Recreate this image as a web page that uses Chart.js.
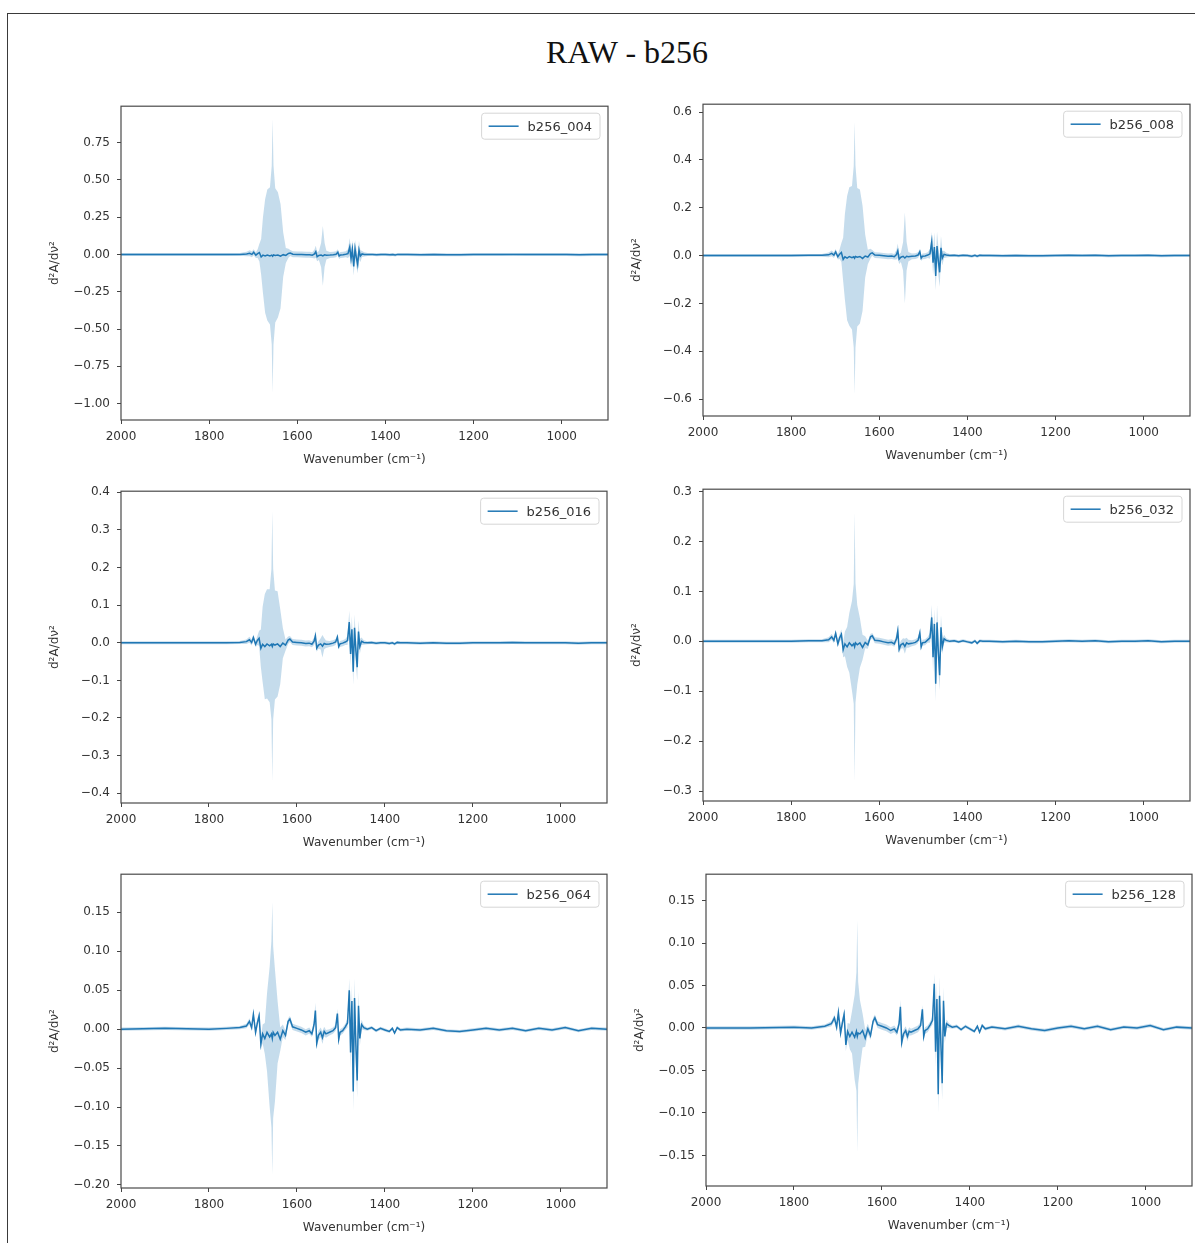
<!DOCTYPE html>
<html>
<head>
<meta charset="utf-8">
<script src="https://cdn.jsdelivr.net/npm/chart.js@4.4.1/dist/chart.umd.min.js"></script>
<style>
  html, body { margin: 0; padding: 0; background: #fff; width: 1195px; height: 1243px; overflow: hidden; position: relative; }
  #frame { position: absolute; left: 7px; top: 13px; width: 1300px; height: 1400px; border: 1.5px solid #3a3a3a; box-sizing: border-box; }
  #title { position: absolute; left: 427px; width: 400px; top: 36px; text-align: center; font-family: "Liberation Serif", "Times New Roman", serif; font-size: 32px; line-height: 32px; color: #111; }
  .pc { position: absolute; }
</style>
</head>
<body>
<div id="frame"></div>
<div id="title">RAW - b256</div>

<script>
// ---------------- DATA ----------------
const WAVENUMBERS = [2000,1900,1800,1760,1730,1715,1708,1703,1699,1694,
  1690,1686,1682,1678,1673,1668,1662,1658,1656,1654,
  1650,1644,1638,1632,1626,1620,1616,1610,1600,1590,
  1580,1572,1566,1561,1558,1555,1551,1546,1542,1538,
  1534,1526,1518,1512,1508,1505,1502,1496,1490,1485,
  1481,1478,1475,1472,1469,1466,1463,1460,1457,1453,
  1448,1440,1430,1420,1410,1400,1390,1383,1378,1372,
  1365,1350,1320,1290,1260,1230,1200,1170,1140,1110,
  1080,1050,1020,990,960,930,895];

const SERIES_LABELS = ["b256_004","b256_008","b256_016","b256_032","b256_064","b256_128"];

const MEAN_004 = [0,0,0,0,0.001,0.003,0.008,0.001,0.015,-0.004,
  0.006,0.013,-0.016,-0.004,-0.010,-0.003,-0.009,-0.004,-0.011,-0.003,
  -0.006,-0.003,-0.011,-0.001,-0.006,0.008,0.010,0.002,0.001,0,
  -0.002,-0.001,-0.004,0.004,0.019,-0.015,-0.006,-0.003,-0.009,-0.002,
  -0.004,-0.003,-0.001,0.002,0.015,-0.010,-0.003,-0.001,0.002,0.006,
  0.050,-0.028,0.034,-0.080,0.038,-0.020,-0.066,0.030,-0.010,0.004,
  0.001,0,0.001,-0.001,0,0,-0.002,0,-0.003,0.001,
  0,0,-0.001,0,-0.001,-0.001,0,0,0,0.001,
  0,0,0,0,-0.001,0,0];
const MEAN_008 = [0,0,0,0.001,0.001,0.003,0.009,0.002,0.015,-0.005,
  0.006,0.013,-0.016,-0.005,-0.011,-0.004,-0.009,-0.005,-0.011,-0.004,
  -0.007,-0.004,-0.012,-0.002,-0.006,0.008,0.011,0.002,0.001,-0.001,
  -0.003,-0.002,-0.005,0.004,0.020,-0.015,-0.007,-0.003,-0.010,-0.003,
  -0.005,-0.003,-0.002,0.002,0.016,-0.011,-0.003,-0.002,0.002,0.007,
  0.058,-0.030,0.036,-0.085,0.040,-0.022,-0.070,0.032,-0.011,0.005,
  0.002,0,0.001,-0.001,0.001,0,-0.003,0.001,-0.003,0.001,
  0,0,-0.001,0,-0.001,-0.001,0,0.001,0,0.001,
  -0.001,0,0,0.001,-0.001,0,0];
const MEAN_016 = [0,0,0,0,0.001,0.003,0.008,0.001,0.014,-0.004,
  0.006,0.012,-0.015,-0.004,-0.010,-0.003,-0.008,-0.004,-0.010,-0.003,
  -0.006,-0.003,-0.010,-0.001,-0.006,0.007,0.010,0.002,0.001,0,
  -0.002,-0.001,-0.004,0.004,0.018,-0.014,-0.006,-0.003,-0.009,-0.002,
  -0.004,-0.003,-0.001,0.002,0.015,-0.010,-0.003,-0.001,0.002,0.006,
  0.055,-0.030,0.036,-0.077,0.040,-0.020,-0.065,0.030,-0.010,0.004,
  0.001,0,0.001,-0.001,0,0,-0.002,0,-0.003,0.001,
  0,0,-0.001,0,-0.001,-0.001,0,0,0,0.001,
  0,0,0,0,-0.001,0,0];
const MEAN_032 = [0,0,0,0.001,0.001,0.003,0.009,0.002,0.016,-0.005,
  0.007,0.014,-0.017,-0.005,-0.011,-0.003,-0.009,-0.005,-0.011,-0.003,
  -0.007,-0.003,-0.012,-0.002,-0.007,0.009,0.011,0.002,0.001,-0.001,
  -0.003,-0.002,-0.005,0.005,0.021,-0.016,-0.007,-0.004,-0.010,-0.003,
  -0.005,-0.004,-0.002,0.002,0.017,-0.011,-0.003,-0.002,0.003,0.007,
  0.048,-0.032,0.035,-0.085,0.038,-0.022,-0.068,0.028,-0.011,0.005,
  0.002,0,0.001,-0.001,0.001,-0.001,-0.003,0.001,-0.004,0.001,
  0,0,-0.001,0,-0.001,-0.001,0,0.001,0,0.001,
  -0.001,0,0,0.001,-0.001,0,0];
const MEAN_064 = [0,0.001,0,0.001,0.002,0.004,0.010,0.002,0.019,-0.004,
  0.008,0.017,-0.019,-0.006,-0.012,-0.004,-0.010,-0.006,-0.012,-0.004,
  -0.008,-0.004,-0.013,-0.002,-0.008,0.010,0.013,0.003,0.001,-0.001,
  -0.004,-0.002,-0.006,0.006,0.024,-0.018,-0.008,-0.004,-0.011,-0.003,
  -0.006,-0.004,-0.002,0.002,0.020,-0.013,-0.004,-0.002,0.003,0.008,
  0.050,-0.030,0.036,-0.080,0.040,-0.020,-0.066,0.030,-0.012,0.006,
  0.002,0,0.002,-0.002,0.001,-0.001,-0.003,0.001,-0.005,0.002,
  -0.001,0,-0.001,0.001,-0.002,-0.003,-0.001,0.001,-0.001,0.001,
  -0.002,0.001,-0.001,0.002,-0.002,0.001,0];
const MEAN_128 = [0,0,0.001,0,0.002,0.005,0.012,0.001,0.018,-0.006,
  0.006,0.016,-0.020,-0.004,-0.010,-0.005,-0.011,-0.004,-0.010,-0.006,
  -0.007,-0.003,-0.012,-0.001,-0.009,0.008,0.012,0.004,0.002,0,
  -0.003,-0.001,-0.005,0.005,0.025,-0.017,-0.007,-0.003,-0.010,-0.004,
  -0.005,-0.003,-0.001,0.003,0.022,-0.010,-0.003,-0.001,0.004,0.009,
  0.052,-0.028,0.034,-0.078,0.038,-0.018,-0.065,0.032,-0.010,0.005,
  0.003,0.001,0.002,-0.002,0.002,-0.001,-0.004,0.002,-0.005,0.003,
  -0.001,0.001,-0.001,0.002,-0.001,-0.003,0,0.002,-0.001,0.002,
  -0.002,0.001,0,0.003,-0.002,0.001,0];

const STD_004 = [0.01,0.01,0.01,0.01,0.01,0.015,0.02,0.02,0.02,0.02,
  0.03,0.06,0.12,0.25,0.38,0.44,0.46,0.60,0.92,0.60,
  0.45,0.42,0.35,0.15,0.05,0.03,0.02,0.02,0.02,0.02,
  0.02,0.02,0.02,0.03,0.04,0.03,0.03,0.08,0.20,0.08,
  0.03,0.02,0.02,0.02,0.02,0.02,0.02,0.02,0.02,0.03,
  0.06,0.06,0.06,0.06,0.06,0.06,0.06,0.06,0.04,0.02,
  0.015,0.01,0.01,0.01,0.01,0.01,0.01,0.01,0.01,0.01,
  0.01,0.01,0.01,0.01,0.01,0.01,0.01,0.01,0.01,0.01,
  0.01,0.01,0.01,0.01,0.01,0.01,0.01];
const STD_008 = [0.006,0.006,0.006,0.006,0.006,0.01,0.012,0.012,0.012,0.012,
  0.02,0.04,0.09,0.18,0.26,0.29,0.30,0.38,0.57,0.38,
  0.29,0.28,0.22,0.09,0.03,0.02,0.012,0.012,0.012,0.012,
  0.012,0.012,0.012,0.02,0.03,0.02,0.02,0.06,0.19,0.06,
  0.02,0.012,0.012,0.012,0.012,0.012,0.012,0.012,0.012,0.02,
  0.04,0.05,0.06,0.06,0.06,0.06,0.06,0.05,0.03,0.015,
  0.01,0.006,0.006,0.006,0.006,0.006,0.006,0.006,0.006,0.006,
  0.006,0.006,0.006,0.006,0.006,0.006,0.006,0.006,0.006,0.006,
  0.006,0.006,0.006,0.006,0.006,0.006,0.006];
const STD_016 = [0.004,0.004,0.004,0.004,0.004,0.006,0.008,0.008,0.008,0.008,
  0.012,0.02,0.05,0.10,0.14,0.145,0.15,0.20,0.36,0.20,
  0.145,0.14,0.10,0.04,0.015,0.01,0.008,0.008,0.008,0.008,
  0.008,0.008,0.008,0.01,0.015,0.01,0.01,0.015,0.03,0.015,
  0.01,0.008,0.008,0.008,0.008,0.008,0.008,0.008,0.008,0.012,
  0.03,0.03,0.035,0.035,0.035,0.035,0.035,0.03,0.02,0.01,
  0.006,0.004,0.004,0.004,0.004,0.004,0.004,0.004,0.004,0.004,
  0.004,0.004,0.004,0.004,0.004,0.004,0.004,0.004,0.004,0.004,
  0.004,0.004,0.004,0.004,0.004,0.004,0.004];
const STD_032 = [0.003,0.003,0.003,0.003,0.003,0.005,0.006,0.006,0.006,0.006,
  0.008,0.01,0.015,0.025,0.04,0.06,0.09,0.12,0.27,0.12,
  0.08,0.05,0.025,0.012,0.008,0.006,0.006,0.006,0.006,0.006,
  0.006,0.006,0.006,0.008,0.012,0.008,0.008,0.01,0.015,0.01,
  0.008,0.006,0.006,0.006,0.006,0.006,0.006,0.006,0.006,0.01,
  0.025,0.03,0.03,0.035,0.035,0.035,0.03,0.025,0.015,0.008,
  0.004,0.003,0.003,0.003,0.003,0.003,0.003,0.003,0.003,0.003,
  0.003,0.003,0.003,0.003,0.003,0.003,0.003,0.003,0.003,0.003,
  0.003,0.003,0.003,0.003,0.003,0.003,0.003];
const STD_064 = [0.002,0.002,0.002,0.002,0.002,0.003,0.004,0.004,0.004,0.004,
  0.005,0.006,0.008,0.012,0.02,0.05,0.09,0.12,0.175,0.11,
  0.085,0.04,0.015,0.008,0.006,0.004,0.004,0.004,0.004,0.004,
  0.004,0.004,0.004,0.006,0.01,0.008,0.006,0.006,0.008,0.006,
  0.005,0.004,0.004,0.004,0.006,0.006,0.004,0.004,0.004,0.006,
  0.015,0.02,0.02,0.025,0.025,0.025,0.022,0.018,0.01,0.006,
  0.003,0.002,0.002,0.002,0.002,0.002,0.002,0.002,0.002,0.002,
  0.002,0.002,0.002,0.002,0.002,0.002,0.002,0.002,0.002,0.002,
  0.002,0.002,0.002,0.002,0.002,0.002,0.002];
const STD_128 = [0.002,0.002,0.002,0.002,0.002,0.003,0.004,0.004,0.004,0.004,
  0.005,0.006,0.007,0.01,0.015,0.025,0.05,0.07,0.137,0.06,
  0.04,0.02,0.01,0.006,0.005,0.004,0.004,0.004,0.004,0.004,
  0.004,0.004,0.004,0.005,0.008,0.006,0.005,0.005,0.006,0.005,
  0.004,0.004,0.004,0.004,0.005,0.005,0.004,0.004,0.004,0.005,
  0.012,0.018,0.02,0.022,0.022,0.022,0.02,0.016,0.008,0.005,
  0.003,0.002,0.002,0.002,0.002,0.002,0.002,0.002,0.002,0.002,
  0.002,0.002,0.002,0.002,0.002,0.002,0.002,0.002,0.002,0.002,
  0.002,0.002,0.002,0.002,0.002,0.002,0.002];

// axis ranges
const X_MIN = 895, X_MAX = 2000, X_STEP = 200;
const Y_MIN  = [-1.11, -0.671, -0.426, -0.32, -0.204, -0.186];
const Y_MAX  = [0.995, 0.633, 0.403, 0.305, 0.199, 0.181];
const Y_STEP = [0.25, 0.2, 0.1, 0.1, 0.05, 0.05];
const Y_DECIMALS = [2, 1, 1, 1, 2, 2];
const X_TITLE = "Wavenumber (cm\u207B\u00B9)";
const Y_TITLE = "d\u00B2A/d\u03BD\u00B2";

const MEANS = [MEAN_004, MEAN_008, MEAN_016, MEAN_032, MEAN_064, MEAN_128];
const STDS  = [STD_004, STD_008, STD_016, STD_032, STD_064, STD_128];

// ---------------- LAYOUT (plot-area boxes in page pixels) ----------------
const PLOT_BOXES = [
  [121, 104, 608, 420],
  [703, 102, 1190, 416],
  [121, 489, 607, 803],
  [703, 487, 1190, 801],
  [121, 872, 607, 1188],
  [706, 872, 1192, 1186]
];
const AXIS_W = 80, AXIS_H = 50, PAD_T = 12, PAD_R = 3;
const FONT = '"DejaVu Sans", sans-serif';
const TXT = '#333';
const LINE_COLOR = '#1f77b4';
const BAND_COLOR = 'rgba(31,119,180,0.26)';

const framePlugin = {
  id: 'frameLegend',
  afterDraw(chart) {
    const ctx = chart.ctx, a = chart.chartArea;
    ctx.save();
    ctx.strokeStyle = '#4a4a4a';
    ctx.lineWidth = 1.2;
    ctx.strokeRect(a.left, a.top, a.right - a.left, a.bottom - a.top);
    // legend
    const label = chart.data.datasets[0].label;
    ctx.font = '13px ' + FONT;
    const tw = ctx.measureText(label).width;
    const w = 7 + 30 + 9 + tw + 8, h = 26;
    const x = a.right - 8 - w, y = a.top + 7;
    const r = 3;
    ctx.beginPath();
    ctx.moveTo(x + r, y);
    ctx.lineTo(x + w - r, y); ctx.quadraticCurveTo(x + w, y, x + w, y + r);
    ctx.lineTo(x + w, y + h - r); ctx.quadraticCurveTo(x + w, y + h, x + w - r, y + h);
    ctx.lineTo(x + r, y + h); ctx.quadraticCurveTo(x, y + h, x, y + h - r);
    ctx.lineTo(x, y + r); ctx.quadraticCurveTo(x, y, x + r, y);
    ctx.closePath();
    ctx.fillStyle = 'rgba(255,255,255,0.8)';
    ctx.fill();
    ctx.strokeStyle = '#d6d6d6';
    ctx.lineWidth = 1;
    ctx.stroke();
    ctx.strokeStyle = LINE_COLOR;
    ctx.lineWidth = 1.5;
    ctx.beginPath();
    ctx.moveTo(x + 7, y + h / 2);
    ctx.lineTo(x + 37, y + h / 2);
    ctx.stroke();
    ctx.fillStyle = TXT;
    ctx.textBaseline = 'middle';
    ctx.textAlign = 'left';
    ctx.fillText(label, x + 46, y + h / 2 + 1);
    ctx.restore();
  }
};

PLOT_BOXES.forEach((b, i) => {
  const [x0, y0, x1, y1] = b;
  const div = document.createElement('div');
  div.className = 'pc';
  const W = (x1 - x0) + AXIS_W + PAD_R;
  const H = (y1 - y0) + PAD_T + AXIS_H;
  div.style.left = (x0 - AXIS_W) + 'px';
  div.style.top = (y0 - PAD_T) + 'px';
  div.style.width = W + 'px';
  div.style.height = H + 'px';
  const cv = document.createElement('canvas');
  div.appendChild(cv);
  document.body.appendChild(div);

  const mean = MEANS[i], std = STDS[i];
  const meanPts = WAVENUMBERS.map((x, k) => ({x: x, y: mean[k]}));
  const upPts = WAVENUMBERS.map((x, k) => ({x: x, y: mean[k] + std[k]}));
  const loPts = WAVENUMBERS.map((x, k) => ({x: x, y: mean[k] - std[k]}));
  const dec = Y_DECIMALS[i];

  new Chart(cv, {
    type: 'line',
    data: {
      datasets: [
        {label: SERIES_LABELS[i], data: meanPts, borderColor: LINE_COLOR, borderWidth: 1.5, pointRadius: 0, fill: false, tension: 0},
        {label: 'upper', data: upPts, borderWidth: 0, borderColor: 'rgba(0,0,0,0)', pointRadius: 0, fill: '+1', backgroundColor: BAND_COLOR, tension: 0},
        {label: 'lower', data: loPts, borderWidth: 0, borderColor: 'rgba(0,0,0,0)', pointRadius: 0, fill: false, tension: 0}
      ]
    },
    options: {
      responsive: true,
      maintainAspectRatio: false,
      animation: false,
      events: [],
      layout: {padding: {top: PAD_T, right: PAD_R, left: 0, bottom: 0}},
      plugins: {legend: {display: false}, tooltip: {enabled: false}},
      scales: {
        x: {
          type: 'linear', reverse: true, min: X_MIN, max: X_MAX,
          grid: {drawOnChartArea: false, drawTicks: true, tickLength: 4, color: '#444'},
          border: {display: false},
          ticks: {stepSize: X_STEP, includeBounds: false, padding: 6, color: TXT, font: {family: FONT, size: 12}, maxRotation: 0,
                  callback: v => String(v)},
          title: {display: true, text: X_TITLE, color: TXT, font: {family: FONT, size: 12}, padding: {top: 0, bottom: 3}},
          afterFit: s => { s.height = AXIS_H; }
        },
        y: {
          type: 'linear', min: Y_MIN[i], max: Y_MAX[i],
          grid: {drawOnChartArea: false, drawTicks: true, tickLength: 4, color: '#444'},
          border: {display: false},
          ticks: {stepSize: Y_STEP[i], includeBounds: false, padding: 7, color: TXT, font: {family: FONT, size: 12},
                  callback: v => { const t = Math.abs(v) < 1e-9 ? (0).toFixed(dec) : v.toFixed(dec); return t.replace('-', '\u2212'); }},
          title: {display: true, text: Y_TITLE, color: TXT, font: {family: FONT, size: 12}, padding: {top: 7, bottom: 0}},
          afterFit: s => { s.width = AXIS_W; }
        }
      }
    },
    plugins: [framePlugin]
  });
});
</script>
</body>
</html>
